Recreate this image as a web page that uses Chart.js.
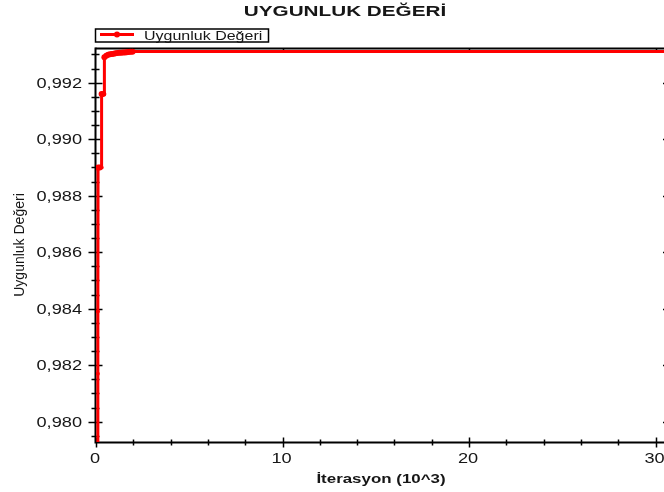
<!DOCTYPE html>
<html><head><meta charset="utf-8">
<script src="https://cdn.jsdelivr.net/npm/chart.js@4/dist/chart.umd.min.js"></script>
<style>
html,body{margin:0;padding:0;background:#fff;overflow:hidden;width:664px;height:492px}
#wrap{position:relative;width:690px;height:492px}
</style></head>
<body><div id="wrap"><canvas id="c" width="690" height="492"></canvas></div>
<script>
// ---- data ----
const chartTitle = 'UYGUNLUK DEĞERİ';
const seriesName = 'Uygunluk Değeri';
const xAxisTitle = 'İterasyon (10^3)';
const yAxisTitle = 'Uygunluk Değeri';
const iterations = [0.09, 0.10, 0.10, 0.11, 0.20, 0.30, 0.30, 0.38, 0.45, 0.45, 0.55, 0.65, 0.75, 0.85, 0.95, 1.05, 1.15, 1.25, 1.35, 1.45, 1.55, 1.65, 1.75, 1.85, 1.95, 2.05, 30.56];
const fitness    = [0.9780, 0.9817, 0.9839, 0.9890, 0.9890, 0.9890, 0.9916, 0.9916, 0.9916, 0.9929, 0.99296, 0.99299, 0.99301, 0.99302, 0.99303, 0.99304, 0.99305, 0.99306, 0.99306, 0.99307, 0.99307, 0.99308, 0.99309, 0.99310, 0.99310, 0.99311, 0.99311];
const markerSize = [2, 2, 2, 3, 3, 2, 3, 3, 2, 3, 3, 3, 3, 3, 3, 3, 3, 3, 3, 3, 3, 3, 3, 3, 3, 2, 0];
const xTickLabels = [0, 10, 20, 30];
const yTickLabels = [0.980, 0.982, 0.984, 0.986, 0.988, 0.990, 0.992];
const xMinorStep = 2;
const yMinorStep = 0.0005;

const FONT = '"Liberation Sans", Arial, sans-serif';
const TXT = '#161616';

function sText(ctx, text, x, y, font, align, sx) {
  ctx.save();
  ctx.translate(x, y);
  ctx.scale(sx, 1);
  ctx.font = font;
  ctx.fillStyle = TXT;
  ctx.textAlign = align;
  ctx.textBaseline = 'alphabetic';
  ctx.fillText(text, 0, 0);
  ctx.restore();
}

const axesPlugin = {
  id: 'axesPlugin',
  beforeDatasetsDraw(chart) {
    const { ctx, chartArea: a, scales: { x, y } } = chart;
    ctx.save();
    ctx.strokeStyle = '#000';
    ctx.lineWidth = 2;
    const L = a.left - 0.5, B = a.bottom + 0.5;
    ctx.beginPath();
    ctx.moveTo(L, a.top - 0.5); ctx.lineTo(L, B); ctx.lineTo(a.right, B);
    ctx.stroke();
    ctx.beginPath();
    ctx.moveTo(L, a.top + 0.5); ctx.lineTo(a.right, a.top + 0.5); ctx.lineTo(a.right, a.bottom);
    ctx.stroke();
    ctx.lineWidth = 1.5;
    const yMin = y.min, yMax = y.max;
    for (let v = Math.ceil(yMin / yMinorStep) * yMinorStep; v <= yMax + 1e-9; v += yMinorStep) {
      const py = Math.round(y.getPixelForValue(v)) + 0.5;
      const major = yTickLabels.some(t => Math.abs(t - v) < 1e-7);
      const len = major ? 7 : 4;
      ctx.beginPath(); ctx.moveTo(L - len, py); ctx.lineTo(L + len, py); ctx.stroke();
    }
    for (const v of yTickLabels) {
      const py = Math.round(y.getPixelForValue(v)) + 0.5;
      ctx.beginPath(); ctx.moveTo(a.right - 3, py); ctx.lineTo(a.right, py); ctx.stroke();
    }
    for (let v = 0; v <= x.max + 1e-9; v += xMinorStep) {
      const px = Math.round(x.getPixelForValue(v)) + 0.5;
      const major = xTickLabels.includes(v);
      const len = major ? 5 : 3;
      ctx.beginPath(); ctx.moveTo(px, B - len); ctx.lineTo(px, B + len); ctx.stroke();
    }
    for (const v of xTickLabels) {
      if (v === 0) continue;
      const px = Math.round(x.getPixelForValue(v)) + 0.5;
      ctx.beginPath(); ctx.moveTo(px, a.top); ctx.lineTo(px, a.top + 3); ctx.stroke();
    }
    ctx.restore();
  },
  afterDraw(chart) {
    const { ctx, chartArea: a, scales: { x, y } } = chart;
    for (const v of yTickLabels) {
      const py = y.getPixelForValue(v);
      sText(ctx, v.toFixed(3).replace('.', ','), 82, py + 5, '14px ' + FONT, 'right', 1.3);
    }
    for (const v of xTickLabels) {
      const px = x.getPixelForValue(v);
      sText(ctx, String(v), px - 1, a.bottom + 21, '14px ' + FONT, 'center', 1.3);
    }
    sText(ctx, chartTitle, 345, 16, 'bold 15px ' + FONT, 'center', 1.38);
    sText(ctx, xAxisTitle, (a.left + a.right) / 2, 483, 'bold 13px ' + FONT, 'center', 1.3);
    ctx.save();
    ctx.translate(23.5, (a.top + a.bottom) / 2);
    ctx.rotate(-Math.PI / 2);
    ctx.font = '14px ' + FONT;
    ctx.fillStyle = TXT;
    ctx.textAlign = 'center';
    ctx.textBaseline = 'alphabetic';
    ctx.fillText(yAxisTitle, 0, 0);
    ctx.restore();
    const ds = chart.data.datasets[0];
    ctx.save();
    ctx.strokeStyle = '#000';
    ctx.lineWidth = 1.5;
    ctx.strokeRect(95.5, 29, 173, 13);
    ctx.strokeStyle = ds.borderColor;
    ctx.lineWidth = 3;
    ctx.beginPath(); ctx.moveTo(100, 34.5); ctx.lineTo(134, 34.5); ctx.stroke();
    ctx.fillStyle = ds.borderColor;
    ctx.beginPath(); ctx.arc(117, 34.5, 3, 0, Math.PI * 2); ctx.fill();
    ctx.restore();
    sText(ctx, seriesName, 144, 39.5, '12.5px ' + FONT, 'left', 1.28);
  }
};

new Chart(document.getElementById('c'), {
  type: 'line',
  data: {
    datasets: [{
      label: seriesName,
      data: iterations.map((v, i) => ({ x: v, y: fitness[i] })),
      borderColor: '#ff0000',
      backgroundColor: '#ff0000',
      borderWidth: 3,
      pointRadius: markerSize,
      pointBackgroundColor: '#ff0000',
      pointBorderColor: '#ff0000',
      pointBorderWidth: 0,
      tension: 0,
      fill: false
    }]
  },
  options: {
    responsive: false,
    animation: false,
    events: [],
    layout: { padding: { left: 96, right: 24, top: 48, bottom: 50 } },
    scales: {
      x: { type: 'linear', min: 0, max: 30.56, display: false },
      y: { type: 'linear', min: 0.97928, max: 0.99323, display: false }
    },
    plugins: { legend: { display: false }, title: { display: false }, tooltip: { enabled: false } }
  },
  plugins: [axesPlugin]
});
</script>
</body></html>
